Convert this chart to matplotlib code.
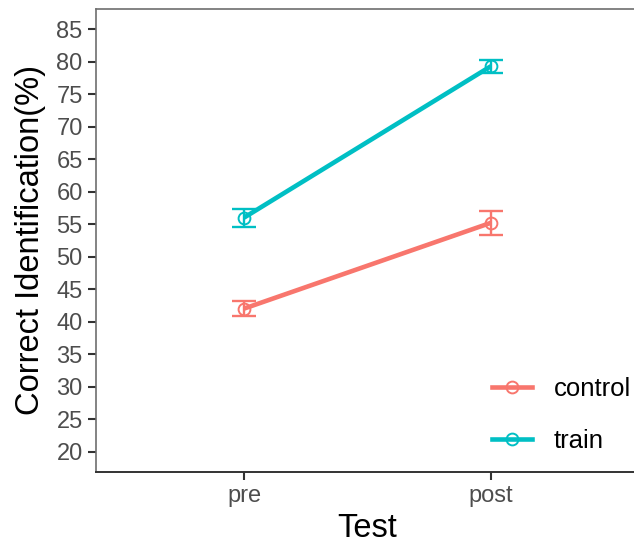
import matplotlib
matplotlib.use("Agg")
import matplotlib.pyplot as plt
from matplotlib.lines import Line2D

plt.rcParams['font.family'] = ['Liberation Sans', 'DejaVu Sans']

tests = ["pre", "post"]
groups = ["control", "train"]
control_mean = [42.0, 55.2]
control_err = [1.1, 1.8]
train_mean = [56.0, 79.3]
train_err = [1.4, 1.0]
colors = {"control": "#F8766D", "train": "#00BFC4"}
yticks = list(range(20, 90, 5))

W, H = 634, 545
fig = plt.figure(figsize=(W / 100, H / 100), dpi=100)
left, right, top, bottom = 96, 639, 9, 471.7
ax = fig.add_axes([left / W, (H - bottom) / H, (right - left) / W, (bottom - top) / H])

x = list(range(len(tests)))
for g, m, e in [("control", control_mean, control_err), ("train", train_mean, train_err)]:
    c = colors[g]
    ax.plot(x, m, color=c, lw=3.3, solid_capstyle='butt', zorder=3)
    ax.errorbar(x, m, yerr=e, fmt='none', ecolor=c, elinewidth=1.7, capsize=8.5, capthick=1.7, zorder=4)
    ax.plot(x, m, 'o', mfc='none', mec=c, mew=1.4, ms=8.5, zorder=5)

ax.set_xlim(-0.6, 1.6)
ax.set_ylim(16.9, 88.1)
ax.set_xticks(x)
ax.set_xticklabels(tests)
ax.set_yticks(yticks)
ax.tick_params(axis='both', labelsize=17, labelcolor='#4D4D4D', color='#333333',
               length=6, width=1.5, direction='out', pad=3.6)
ax.set_xlabel("Test", fontsize=23.5, color='black')
ax.set_ylabel("Correct Identification(%)", fontsize=23.5, color='black')
ax.xaxis.set_label_coords(0.5, (bottom - 513) / (bottom - top))
ax.yaxis.set_label_coords((46 - left) / (right - left), 0.5)

for s in ['left', 'top', 'right']:
    ax.spines[s].set_color('#6E6E6E')
    ax.spines[s].set_linewidth(1.2)
ax.spines['bottom'].set_color('#333333')
ax.spines['bottom'].set_linewidth(1.4)

handles = [Line2D([0], [0], color=colors[g], lw=3.3, marker='o', mfc='none', mec=colors[g],
                  mew=1.4, ms=8.5) for g in groups]
leg = ax.legend(handles, groups, loc='center left', bbox_to_anchor=(492 / W, (H - 415) / H),
                bbox_transform=fig.transFigure, frameon=False, fontsize=18.5,
                handlelength=1.56, handletextpad=0.85, labelspacing=1.1, borderpad=0,
                borderaxespad=0)

fig.savefig("out.png", dpi=100)
